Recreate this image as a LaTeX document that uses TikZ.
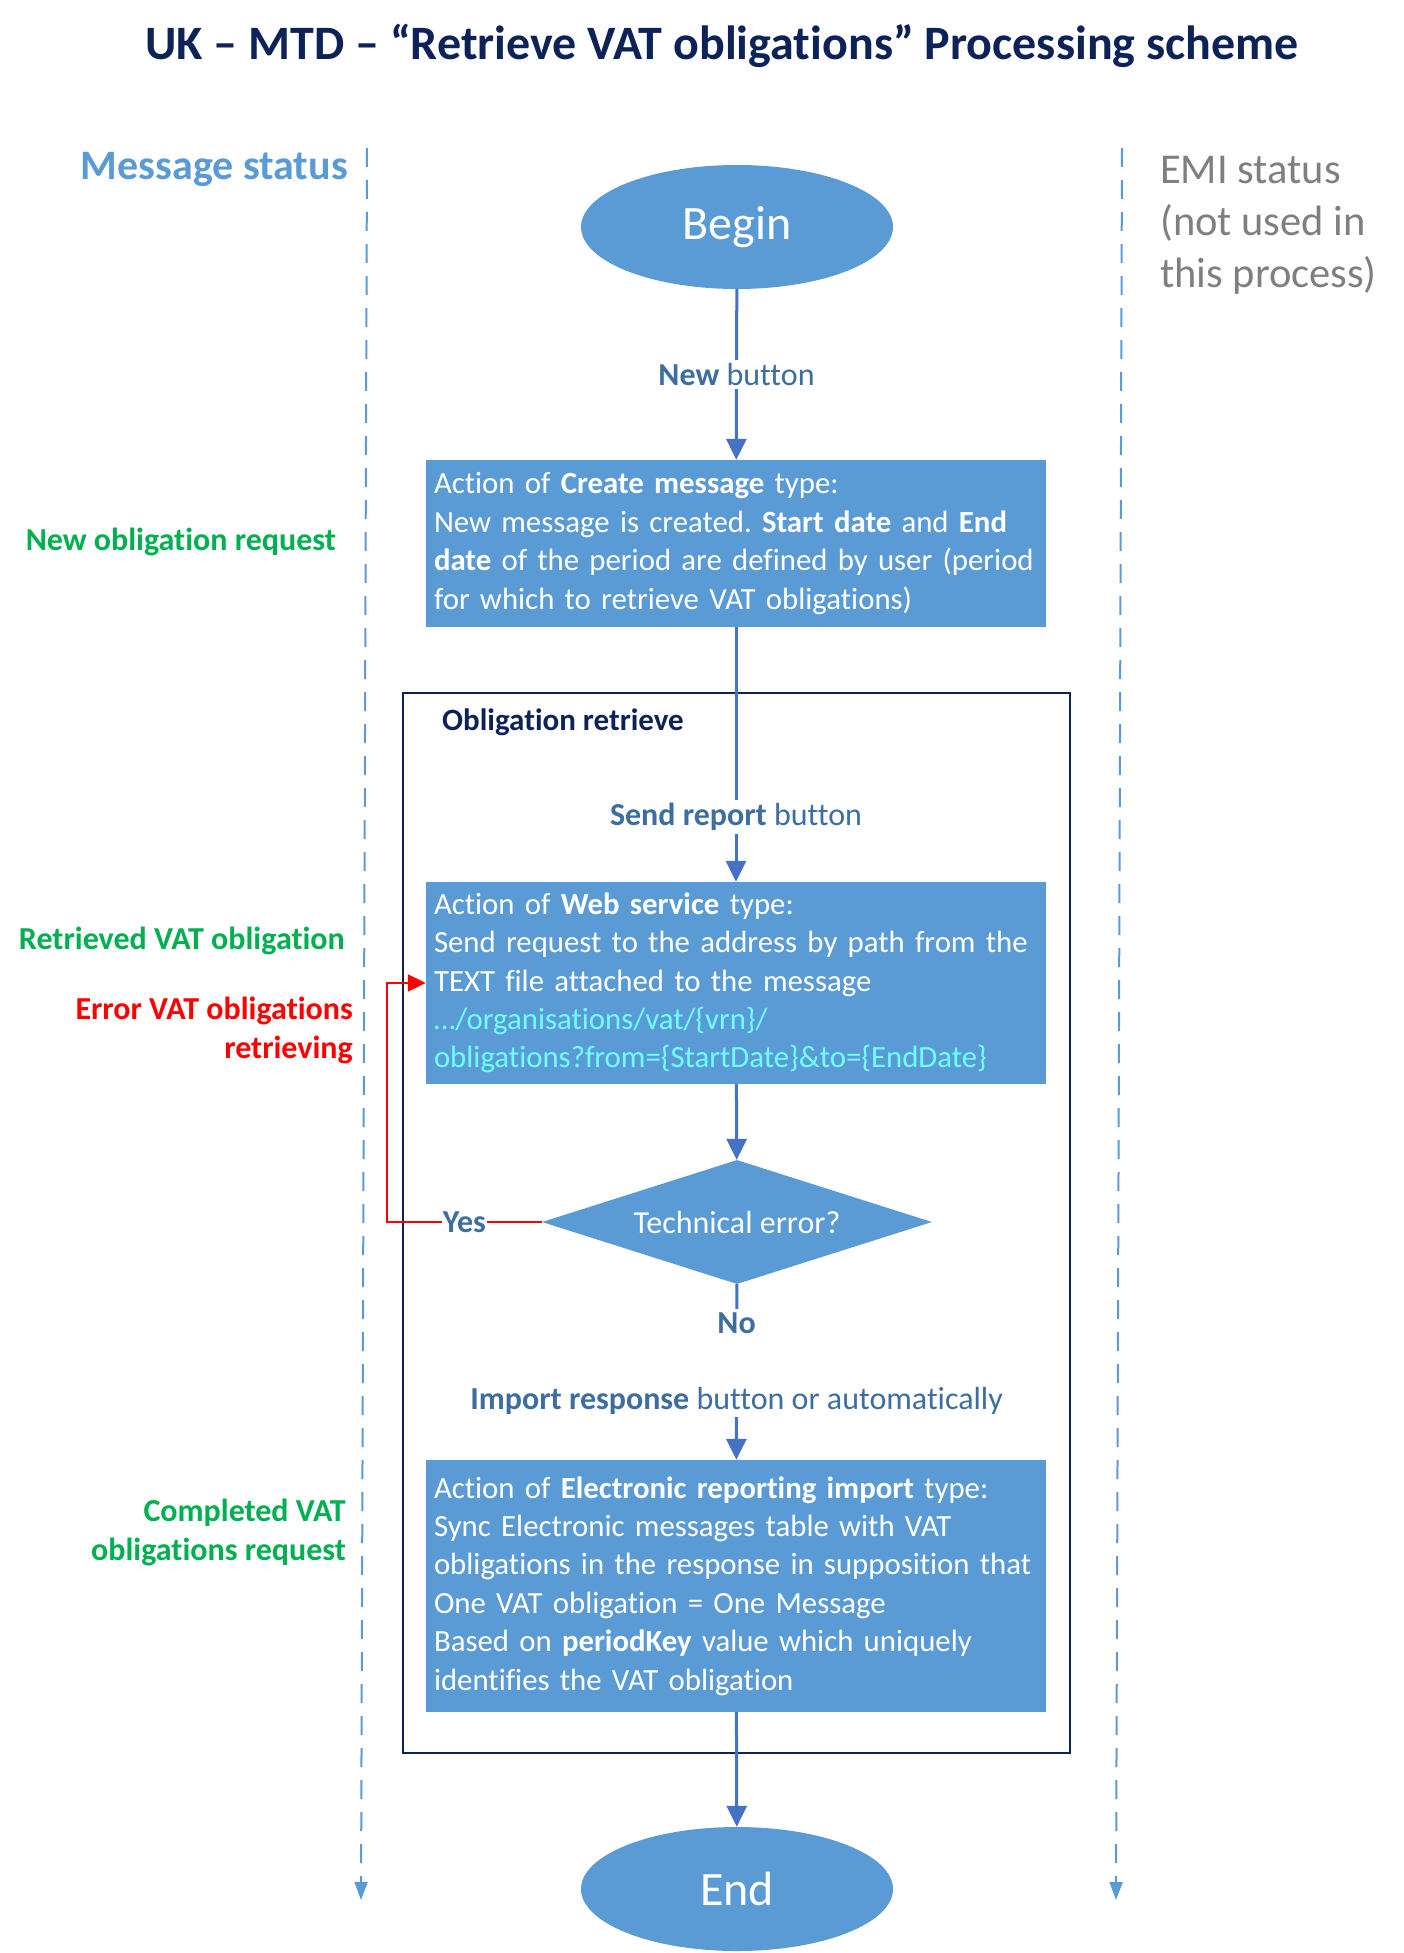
\documentclass[tikz,border=0pt]{standalone}
\usepackage{fontspec}
\setmainfont{Carlito}[Ligatures={NoCommon}]
\usetikzlibrary{shapes.geometric,arrows.meta}
\definecolor{fillblue}{HTML}{5B9BD5}
\definecolor{lineblue}{HTML}{4472C4}
\definecolor{labelblue}{HTML}{3E6E9F}
\definecolor{navy}{HTML}{0D2358}
\definecolor{okgreen}{HTML}{00B050}
\definecolor{errred}{HTML}{FF0000}
\definecolor{emigray}{HTML}{7F7F7F}
\definecolor{urlcyan}{HTML}{6FFFFF}
\frenchspacing
\hyphenpenalty=10000
\exhyphenpenalty=10000
\tikzset{
  terminal/.style={ellipse, fill=fillblue, draw=none, minimum width=312pt, minimum height=124pt, inner sep=0pt, text=white, font=\fontsize{48}{56}\selectfont},
  actbox/.style={rectangle, fill=fillblue, draw=none, text=white, text width=604pt, inner xsep=8pt, inner ysep=0pt, align=left, font=\fontsize{30.8}{38.4}\selectfont},
  decision/.style={diamond, aspect=3, fill=fillblue, draw=none, text=white, minimum width=390pt, minimum height=124pt, inner sep=0pt, font=\fontsize{32}{38}\selectfont},
  flow/.style={draw=lineblue, line width=3pt, -{Triangle[length=21pt,width=20pt]}},
  flowlabel/.style={fill=white, text=labelblue, font=\fontsize{32}{38}\selectfont, inner xsep=2pt, inner ysep=3pt, align=center},
  lane/.style={draw=fillblue, line width=2pt, dash pattern=on 19pt off 13pt, -{Triangle[length=18pt,width=13pt]}},
  errloop/.style={draw=errred, line width=2pt, -{Triangle[length=18pt,width=17pt]}},
  statuslbl/.style={font=\bfseries\fontsize{32}{39}\selectfont, anchor=east, align=right, inner sep=0pt},
  groupbox/.style={rectangle, draw=navy, line width=1.5pt, fill=none, inner sep=0pt},
}
\begin{document}
\begin{tikzpicture}[x=1pt,y=-1pt]
\useasboundingbox (0,0) rectangle (1403,1953);

% title
\node[font=\bfseries\fontsize{48}{56}\selectfont, text=navy] (title) at (722,46) {UK – MTD – “Retrieve VAT obligations” Processing scheme};

% lane headers
\node[anchor=east, text=fillblue, font=\bfseries\fontsize{42}{50}\selectfont, inner sep=0pt] (msgstatus) at (348,169) {Message status};
\node[anchor=west, text=emigray, align=left, font=\fontsize{42.5}{52}\selectfont, inner sep=0pt] (emistatus) at (1160,225) {EMI status\\(not used in\\this process)};

% lanes
\coordinate (l1top) at (367,148);
\coordinate (l1bot) at (361,1900);
\coordinate (l2top) at (1122,148);
\coordinate (l2bot) at (1116,1900);
\draw[lane] (l1top) -- (l1bot);
\draw[lane] (l2top) -- (l2bot);

% group
\node[groupbox, minimum width=667pt, minimum height=1060pt, anchor=north west] (grp) at (402,692) {};
\node[anchor=west, text=navy, font=\bfseries\fontsize{31}{38}\selectfont, inner sep=0pt] (grptitle) at (442,722) {Obligation retrieve};

% nodes
\node[terminal] (begin) at (737,227) {Begin};
\node[actbox, minimum height=167pt] (box1) at (736,543.5) {Action of \textbf{Create message} type:\\
New message is created. \textbf{Start date} and \textbf{End}\\
\textbf{date} of the period are defined by user (period\\
for which to retrieve VAT obligations)};
\node[actbox, minimum height=202pt] (box2) at (736,983) {Action of \textbf{Web service} type:\\
Send request to the address by path from the\\
TEXT file attached to the message\\
{\color{urlcyan}…/organisations/vat/\{vrn\}/}\\
{\color{urlcyan}obligations?from=\{StartDate\}\&to=\{EndDate\}}};
\node[decision] (dia) at (737,1222) {Technical error?};
\node[actbox, minimum height=252pt] (box3) at (736,1586) {Action of \textbf{Electronic reporting import} type:\\
Sync Electronic messages table with VAT\\
obligations in the response in supposition that\\
One VAT obligation = One Message\\
Based on \textbf{periodKey} value which uniquely\\
identifies the VAT obligation};
\node[terminal] (end) at (737,1889) {End};

% status labels
\node[statuslbl, text=okgreen] (s1) at (336,542) {New obligation request};
\node[statuslbl, text=okgreen] (s2) at (345,941) {Retrieved VAT obligation};
\node[statuslbl, text=errred] (s3) at (353,1030) {Error VAT obligations\\retrieving};
\node[statuslbl, text=okgreen] (s4) at (346,1532) {Completed VAT\\obligations request};

% connectors
\draw[flow] (begin) -- node[flowlabel, midway] (lbl1) {\textbf{New} button} (box1);
\draw[flow] (box1) -- node[flowlabel, pos=0.745] (lbl2) {\textbf{Send report} button} (box2);
\draw[flow] (box2) -- (dia);
\draw[flow] (dia) -- node[flowlabel, pos=0.45] (lbl3) {\textbf{No}\\[38pt]\textbf{Import response} button or automatically} (box3);
\draw[flow] (box3) -- (end);

\coordinate (loopbot) at (387,1222);
\coordinate (looptop) at (387,983);
\draw[errloop] (dia.west) -- node[flowlabel, midway, inner xsep=1pt, inner ysep=2pt, font=\bfseries\fontsize{32}{38}\selectfont] (yes) {Yes} (loopbot) -- (looptop) -- (box2.west);
\end{tikzpicture}
\end{document}
